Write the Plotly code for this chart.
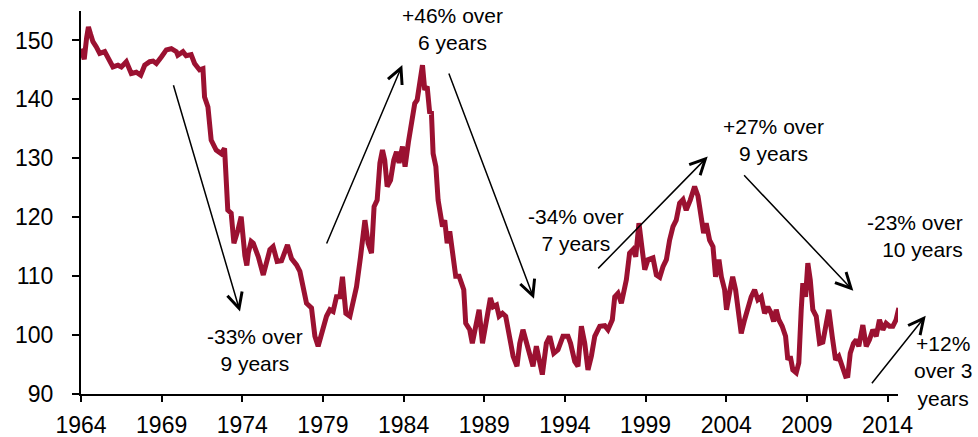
import plotly.graph_objects as go

# ---- data ----
years = [
    1964.00, 1964.20, 1964.35, 1964.46, 1964.60, 1964.74, 1964.95, 1965.16, 1965.47, 1965.67,
    1965.98, 1966.29, 1966.50, 1966.81, 1967.12, 1967.43, 1967.70, 1967.95, 1968.26, 1968.47,
    1968.67, 1968.98, 1969.29, 1969.60, 1969.91, 1970.00, 1970.32, 1970.52, 1970.83, 1971.04,
    1971.35, 1971.56, 1971.66, 1971.87, 1972.07, 1972.38, 1972.69, 1972.90, 1973.10, 1973.31,
    1973.48, 1973.73, 1973.93, 1974.16, 1974.28, 1974.37, 1974.55, 1974.68, 1974.99, 1975.30,
    1975.50, 1975.71, 1975.91, 1976.16, 1976.43, 1976.64, 1976.80, 1977.05, 1977.36, 1977.57,
    1977.77, 1977.98, 1978.29, 1978.50, 1978.70, 1978.91, 1979.22, 1979.43, 1979.63, 1979.84,
    1980.05, 1980.21, 1980.42, 1980.67, 1980.87, 1981.08, 1981.33, 1981.60, 1981.80, 1982.01,
    1982.17, 1982.36, 1982.53, 1982.69, 1982.83, 1982.98, 1983.19, 1983.39, 1983.56, 1983.72,
    1983.93, 1984.09, 1984.30, 1984.52, 1984.69, 1984.84, 1984.96, 1985.17, 1985.31, 1985.46,
    1985.62, 1985.72, 1985.83, 1986.00, 1986.14, 1986.29, 1986.41, 1986.55, 1986.70, 1986.86,
    1987.02, 1987.23, 1987.44, 1987.58, 1987.73, 1987.85, 1988.10, 1988.26, 1988.47, 1988.68,
    1988.89, 1989.09, 1989.24, 1989.38, 1989.55, 1989.76, 1989.92, 1990.13, 1990.33, 1990.54,
    1990.79, 1991.03, 1991.20, 1991.40, 1991.61, 1991.86, 1992.02, 1992.23, 1992.44, 1992.60,
    1992.85, 1993.06, 1993.31, 1993.57, 1993.88, 1994.19, 1994.35, 1994.61, 1994.81, 1995.02,
    1995.23, 1995.43, 1995.64, 1995.85, 1996.16, 1996.47, 1996.67, 1996.94, 1997.09, 1997.29,
    1997.50, 1997.64, 1997.81, 1998.01, 1998.22, 1998.39, 1998.59, 1998.74, 1998.95, 1999.15,
    1999.46, 1999.67, 1999.88, 2000.08, 2000.29, 2000.49, 2000.70, 2000.90, 2001.11, 2001.32,
    2001.52, 2001.77, 2002.04, 2002.25, 2002.45, 2002.60, 2002.76, 2002.97, 2003.18, 2003.34,
    2003.55, 2003.70, 2003.90, 2004.02, 2004.20, 2004.40, 2004.58, 2004.73, 2004.93, 2005.14,
    2005.34, 2005.55, 2005.76, 2005.96, 2006.17, 2006.38, 2006.58, 2006.79, 2006.94, 2007.10,
    2007.26, 2007.47, 2007.68, 2007.82, 2007.97, 2008.13, 2008.34, 2008.50, 2008.65, 2008.75,
    2008.92, 2009.06, 2009.21, 2009.37, 2009.58, 2009.79, 2009.99, 2010.16, 2010.36, 2010.57,
    2010.78, 2010.98, 2011.19, 2011.40, 2011.54, 2011.69, 2011.89, 2012.06, 2012.22, 2012.47,
    2012.68, 2012.88, 2013.09, 2013.30, 2013.50, 2013.71, 2013.91, 2014.12, 2014.33, 2014.53,
    2014.70,
]
index_values = [
    148.6, 146.8, 150.5, 152.3, 151.0, 149.8, 148.9, 147.8, 148.1, 147.0,
    145.5, 145.8, 145.5, 146.4, 144.4, 144.6, 144.1, 145.8, 146.4, 146.5,
    146.1, 147.2, 148.4, 148.6, 148.1, 147.5, 148.1, 147.4, 147.6, 146.1,
    145.0, 145.2, 140.4, 138.7, 133.1, 131.4, 130.8, 131.7, 121.2, 120.7,
    115.6, 117.8, 120.1, 113.5, 111.8, 113.9, 115.9, 115.6, 113.3, 110.2,
    112.2, 114.5, 115.0, 112.5, 112.6, 113.9, 115.3, 113.0, 111.9, 110.8,
    108.2, 105.4, 104.6, 99.8, 98.1, 100.5, 103.2, 104.3, 104.0, 106.5,
    106.5, 109.9, 103.7, 103.2, 105.4, 108.2, 113.3, 119.5, 115.6, 113.9,
    121.8, 122.9, 129.2, 131.4, 129.7, 125.2, 126.3, 129.7, 131.1, 129.2,
    132.0, 128.6, 132.8, 137.1, 139.3, 139.9, 142.7, 145.8, 141.6, 142.2,
    137.6, 138.0, 130.8, 128.6, 122.9, 120.1, 118.4, 119.5, 115.6, 117.6,
    114.5, 110.0, 110.0, 108.8, 107.7, 102.0, 100.9, 98.6, 102.0, 104.3,
    98.6, 102.0, 103.7, 106.3, 104.8, 105.1, 103.2, 103.7, 103.2, 99.8,
    96.4, 94.7, 98.6, 100.9, 98.6, 95.8, 94.7, 98.1, 95.3, 93.3,
    98.6, 99.8, 96.9, 97.5, 99.8, 99.8, 98.6, 95.5, 94.7, 101.5,
    98.6, 94.1, 96.4, 99.8, 101.5, 101.6, 100.9, 102.6, 106.5, 107.1,
    105.4, 107.4, 109.4, 113.9, 114.5, 113.3, 119.0, 115.6, 111.1, 112.8,
    113.1, 110.2, 109.8, 111.6, 112.8, 116.1, 118.4, 119.5, 122.4, 123.0,
    121.2, 122.9, 125.2, 123.6, 120.1, 117.3, 119.0, 116.1, 115.0, 109.9,
    112.8, 109.9, 107.7, 104.3, 107.1, 109.9, 107.7, 103.7, 100.3, 102.6,
    104.8, 106.5, 107.7, 106.0, 106.5, 103.7, 104.8, 103.7, 102.3, 104.3,
    102.6, 101.5, 99.8, 95.8, 96.4, 94.1, 93.6, 95.3, 104.3, 108.8,
    106.5, 112.2, 109.4, 104.3, 103.2, 98.6, 98.8, 100.9, 104.3, 99.8,
    95.8, 96.4, 94.7, 93.0, 93.1, 96.9, 98.6, 99.2, 98.1, 101.7,
    98.1, 99.2, 100.9, 99.8, 102.6, 100.9, 102.0, 101.5, 101.5, 102.6,
    104.6,
]

tick_years = [1964, 1969, 1974, 1979, 1984, 1989, 1994, 1999, 2004, 2009, 2014]
y_ticks = [90, 100, 110, 120, 130, 140, 150]

label_texts = [
    "-33% over<br>9 years",
    "+46% over<br>6 years",
    "-34% over<br>7 years",
    "+27% over<br>9 years",
    "-23% over<br>10 years",
    "+12%<br>over 3<br>years",
]

FONT = "Arial"
LINE_COLOR = "#9b1131"

fig = go.Figure()
fig.add_trace(go.Scatter(
    x=years, y=index_values, mode="lines",
    line=dict(color=LINE_COLOR, width=5),
    showlegend=False, hoverinfo="skip",
))

# plot-area geometry (pixels) used to place text labels in paper coords
L, R, T, B = 81, 898, 11, 394.3
W, H = R - L, B - T


def px(x):
    return (x - L) / W


def py(y):
    return (B - y) / H


annotations = []
label_pos = [
    (0, 254.5, 350.5, "center"),
    (1, 452.5, 29.5, "center"),
    (2, 575.5, 230.0, "center"),
    (3, 773.0, 140.0, "center"),
    (4, 965.0, 236.5, "right"),
    (5, 943.0, 371.3, "center"),
]
for i, xx, yy, anc in label_pos:
    annotations.append(dict(
        text=label_texts[i], x=px(xx), y=py(yy), xref="paper", yref="paper",
        xanchor=anc, yanchor="middle", align=anc, showarrow=False,
        font=dict(family=FONT, size=21, color="black"),
    ))

arrows = [
    (240.0, 311.7, 173.0, 84.0),
    (402.3, 65.0, 326.0, 245.0),
    (534.0, 299.0, 448.3, 72.3),
    (707.7, 156.7, 596.7, 270.0),
    (853.3, 291.0, 742.7, 174.0),
    (925.7, 316.0, 870.7, 385.0),
]
for tx, ty, sx, sy in arrows:
    annotations.append(dict(
        text="", x=px(tx), y=py(ty), xref="paper", yref="paper",
        ax=sx - tx, ay=sy - ty, axref="pixel", ayref="pixel",
        showarrow=True, arrowhead=5, arrowsize=2, arrowwidth=1.5,
        arrowcolor="black", standoff=0,
    ))

fig.update_layout(
    width=978, height=437,
    margin=dict(l=L, r=978 - R, t=T, b=437 - B, autoexpand=False),
    paper_bgcolor="white", plot_bgcolor="white",
    font=dict(family=FONT, size=23, color="black"),
    annotations=annotations,
    xaxis=dict(
        range=[1964, 2014.65], tickmode="array", tickvals=tick_years,
        ticktext=[str(t) for t in tick_years], automargin=False,
        showgrid=False, zeroline=False, showline=True, linecolor="black",
        linewidth=2, ticks="outside", ticklen=6, tickwidth=2, tickcolor="black",
        tickfont=dict(family=FONT, size=23, color="black"), ticklabelstandoff=3,
    ),
    yaxis=dict(
        range=[90, 155], tickmode="array", tickvals=y_ticks, automargin=False,
        showgrid=False, zeroline=False, showline=True, linecolor="black",
        linewidth=2, ticks="outside", ticklen=7, tickwidth=2, tickcolor="black",
        tickfont=dict(family=FONT, size=23, color="black"), ticklabelstandoff=14,
    ),
)

fig.write_html("out.html")
